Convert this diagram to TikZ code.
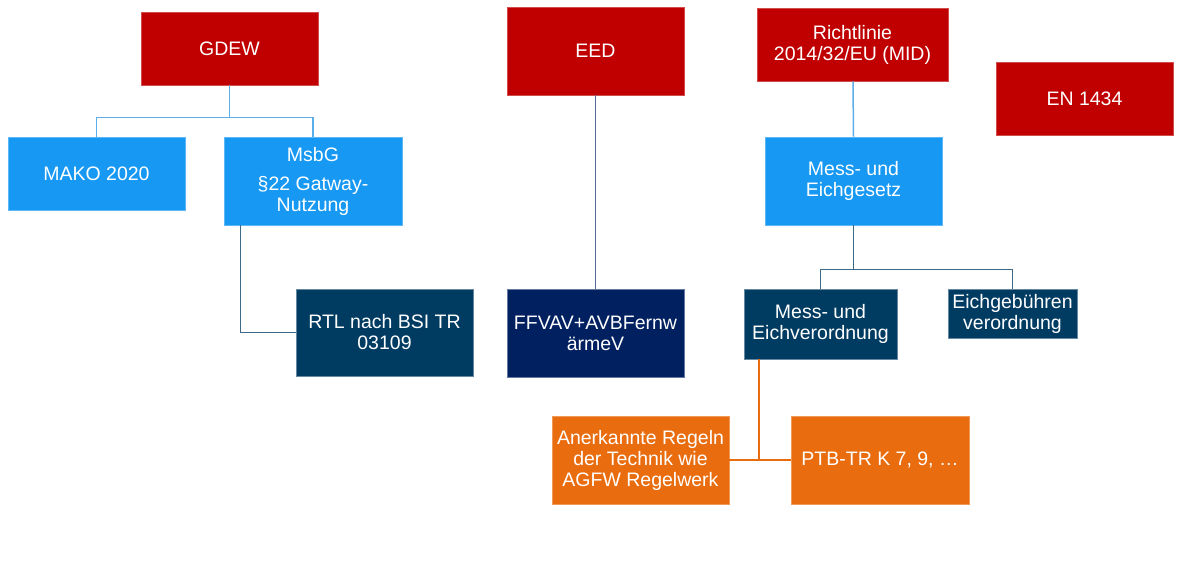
\documentclass[tikz,border=0pt]{standalone}
\usepackage{fontspec}
\setmainfont{Liberation Sans}
\definecolor{lawred}{RGB}{192,0,0}
\definecolor{lawblue}{RGB}{22,152,243}
\definecolor{lawteal}{RGB}{0,59,98}
\definecolor{lawnavy}{RGB}{0,32,96}
\definecolor{laworange}{RGB}{233,108,14}
\definecolor{linkblue}{RGB}{91,174,232}
\definecolor{linkteal}{RGB}{62,106,138}
\definecolor{linknavy}{RGB}{88,108,152}
\tikzset{
  lawbox/.style={rectangle, text=white, align=center, inner sep=2pt,
    font=\fontsize{19.5}{21}\selectfont, line width=0.6pt},
  redbox/.style={lawbox, fill=lawred, draw=lawred!70!white},
  bluebox/.style={lawbox, fill=lawblue, draw=lawblue!70!white},
  tealbox/.style={lawbox, fill=lawteal, draw=lawteal!60!white},
  navybox/.style={lawbox, fill=lawnavy, draw=lawnavy!60!white},
  orangebox/.style={lawbox, fill=laworange, draw=laworange!70!white},
  link/.style={line width=1.5pt}
}
\begin{document}
\begin{tikzpicture}[x=1pt, y=-1pt]
\useasboundingbox (0,0) rectangle (1200,564);
% left column
\node[redbox, minimum width=177pt, minimum height=73pt] (gdew) at (229.5,48.5) {GDEW};
\node[bluebox, minimum width=177pt, minimum height=73pt] (mako) at (96.5,173.5) {MAKO 2020};
\node[bluebox, minimum width=178pt, minimum height=88pt] (msbg) at (313,181) {MsbG\\[8pt]§22 Gatway-\\Nutzung};
\node[tealbox, minimum width=177pt, minimum height=87pt] (rtl) at (384.5,332.5) {RTL nach BSI TR\\03109};
% middle column
\node[redbox, minimum width=177pt, minimum height=88pt] (eed) at (595.5,51) {EED};
\node[navybox, minimum width=177pt, minimum height=88pt] (ffvav) at (595.5,333) {FFVAV+AVBFernw\\ärmeV};
% right column
\node[redbox, minimum width=191pt, minimum height=73pt] (mid) at (852.5,44.5) {Richtlinie\\2014/32/EU (MID)};
\node[redbox, minimum width=177pt, minimum height=73pt] (en) at (1084.5,98.5) {EN 1434};
\node[bluebox, minimum width=177pt, minimum height=88pt] (meg) at (853.5,181) {Mess- und\\Eichgesetz};
\node[tealbox, minimum width=153pt, minimum height=70pt] (mev) at (820.5,324) {Mess- und\\Eichverordnung};
\node[tealbox, minimum width=129pt, minimum height=49pt] (egv) at (1012.5,313.5) {Eichgebühren\\verordnung};
\node[orangebox, minimum width=177pt, minimum height=88pt] (arr) at (640.5,460) {Anerkannte Regeln\\der Technik wie\\AGFW Regelwerk};
\node[orangebox, minimum width=178pt, minimum height=88pt] (ptb) at (880,460) {PTB-TR K 7, 9, \dots};
\coordinate (tj) at (759,460);

\draw[link, linkblue] (gdew.south) -- ++(0,32) -| (mako.north);
\draw[link, linkblue] (gdew.south) -- ++(0,32) -| (msbg.north);
\draw[link, linkteal] (msbg.south west) ++(17,0) |- (rtl.west);
\draw[link, linknavy] (eed.south) -- (ffvav.north);
\draw[link, linkblue] (mid.south) ++(0.5,0) -- (meg.north);
\draw[link, linkteal] (meg.south) -- ++(0,44) -| (mev.north);
\draw[link, linkteal] (meg.south) -- ++(0,44) -| (egv.north);
\draw[link, laworange] (mev.south -| tj) -- (tj);
\draw[link, laworange] (arr.east) -- (ptb.west);
\end{tikzpicture}
\end{document}
